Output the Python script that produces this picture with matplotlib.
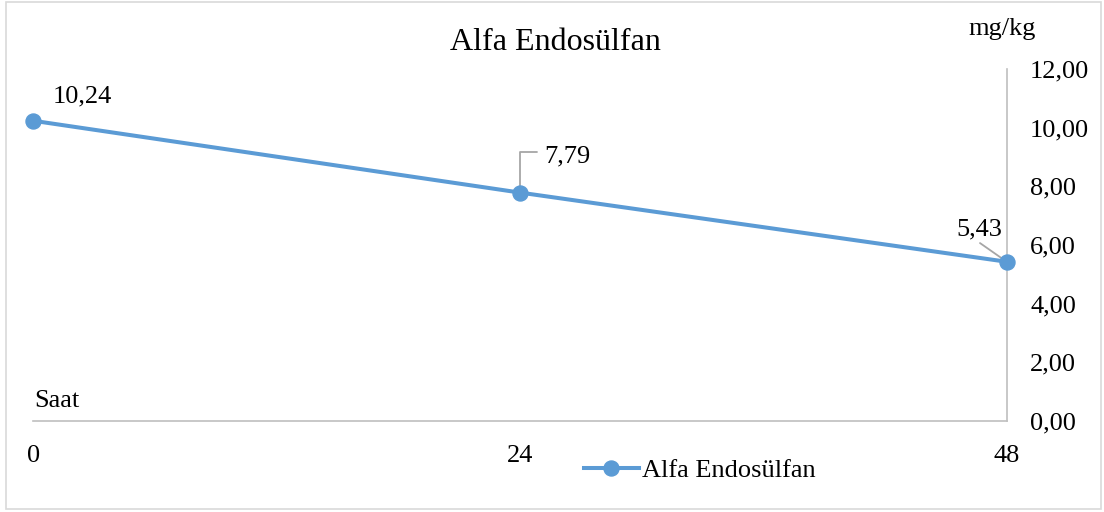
import numpy as np
import matplotlib
matplotlib.use("Agg")
import matplotlib.pyplot as plt
from matplotlib.patches import Rectangle
from matplotlib.lines import Line2D

# ---- data ----
hours = [0, 24, 48]
values = [10.24, 7.79, 5.43]
series_name = "Alfa Endosülfan"
title = "Alfa Endosülfan"
y_ticks = [0, 2, 4, 6, 8, 10, 12]
x_ticks = [0, 24, 48]
x_label = "Saat"
y_unit = "mg/kg"

W, H = 1104, 512
plt.rcParams['font.family'] = ['Liberation Serif', 'DejaVu Serif']
FS = 19
LINE_C = '#5B9BD5'
AXIS_C = '#BFBFBF'
LEAD_C = '#A6A6A6'

fig = plt.figure(figsize=(W / 100, H / 100), dpi=100)

def fx(px):
    return px / W

def fy(py):
    return (H - py) / H

x0, x1 = 33.3, 1006.7
ytop, ybot = 69.2, 420.9
ax = fig.add_axes([fx(x0), fy(ybot), fx(x1) - fx(x0), (ybot - ytop) / H])
ax.set_xlim(0, 48)
ax.set_ylim(0, 12)

ax.plot(hours, values, color=LINE_C, lw=2.9, marker='o', ms=10.8,
        markerfacecolor=LINE_C, markeredgecolor=LINE_C, clip_on=False, zorder=4)

for s in ['top', 'left']:
    ax.spines[s].set_visible(False)
for s in ['right', 'bottom']:
    ax.spines[s].set_color(AXIS_C)
    ax.spines[s].set_linewidth(1.2)

ax.yaxis.tick_right()
ax.set_yticks(y_ticks)
ax.set_yticklabels([f"{v:.2f}".replace('.', ',') for v in y_ticks], fontsize=FS)
ax.set_xticks(x_ticks)
ax.set_xticklabels([str(v) for v in x_ticks], fontsize=FS)
ax.tick_params(axis='y', length=0, pad=16.8)
ax.tick_params(axis='x', length=0, pad=17)
for t in ax.get_yticklabels():
    t.set_horizontalalignment('left')

# data labels (offsets in pixels)
label_offsets = [(48.7, 18.7), (47.8, 29.7), (-27.2, 26.7)]
for xv, yv, (dx, dy) in zip(hours, values, label_offsets):
    ax.annotate(f"{yv:.2f}".replace('.', ','), xy=(xv, yv), xytext=(dx, dy),
                textcoords='offset pixels', ha='center', va='baseline',
                fontsize=FS, annotation_clip=False)

# leader lines
ax.annotate('', xy=(hours[1], values[1]), xytext=(17.3, 41), textcoords='offset pixels',
            arrowprops=dict(arrowstyle='-', color=LEAD_C, lw=1.3, shrinkA=0, shrinkB=0,
                            connectionstyle='angle,angleA=0,angleB=90,rad=0'),
            annotation_clip=False, zorder=3)
ax.annotate('', xy=(hours[2], values[2]), xytext=(-26.7, 18.7), textcoords='offset pixels',
            arrowprops=dict(arrowstyle='-', color=LEAD_C, lw=1.3, shrinkA=0, shrinkB=0),
            annotation_clip=False, zorder=3)

# title and axis texts
fig.text(fx(555), fy(50), title, ha='center', va='baseline', fontsize=23)
fig.text(fx(34), fy(407), x_label, ha='left', va='baseline', fontsize=FS)
fig.text(fx(968), fy(35), y_unit, ha='left', va='baseline', fontsize=FS)

# legend
handle = Line2D([], [], color=LINE_C, lw=2.9, marker='o', ms=10.8,
                markerfacecolor=LINE_C, markeredgecolor=LINE_C)
fig.legend([handle], [series_name], loc='center', bbox_to_anchor=(fx(700), fy(470)),
           frameon=False, fontsize=FS, handlelength=2.07, handletextpad=0.15,
           borderpad=0, borderaxespad=0)

# chart border
fig.patches.append(Rectangle((fx(6), fy(509)), fx(1101) - fx(6), (509 - 2) / H,
                             transform=fig.transFigure, fill=False,
                             edgecolor='#D9D9D9', lw=1.2))

fig.savefig('out.png', dpi=100)
